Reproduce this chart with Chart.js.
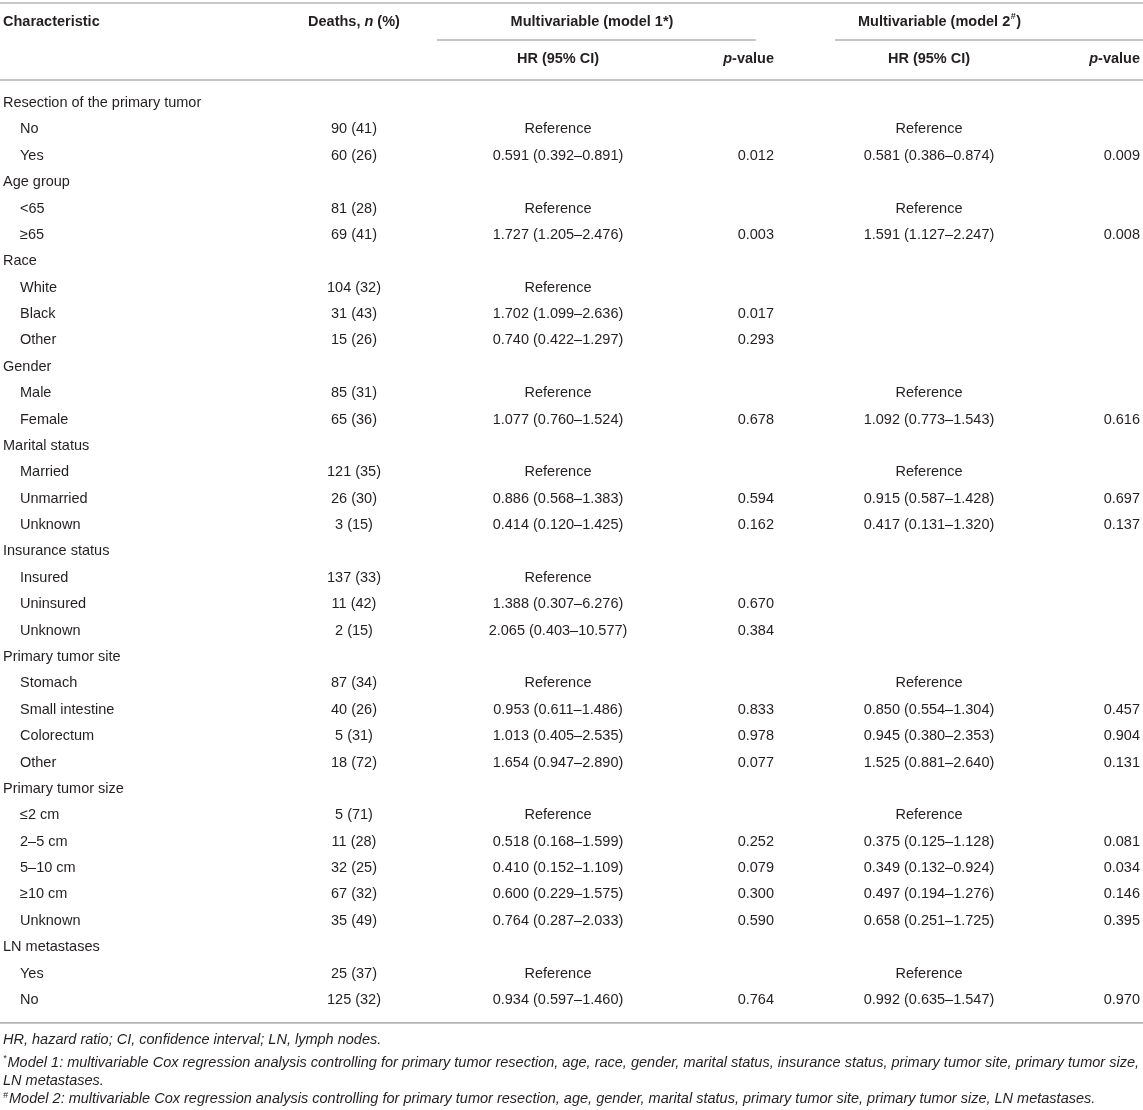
<!DOCTYPE html>
<html lang="en">
<head>
  <meta charset="UTF-8" />
  <title>Multivariable Cox regression</title>
  <script src="https://cdn.jsdelivr.net/npm/chart.js"></script>
  <style>
    body { margin: 0; background: #fff; }
    #wrap { width: 1143px; height: 1110px; }
  </style>
</head>
<body>
  <div id="wrap"><canvas id="tabla" width="1143" height="1110"></canvas></div>
  <script>
    // table content, one entry per row
    const characteristics = [
      'Resection of the primary tumor', 'No', 'Yes',
      'Age group', '<65', '≥65',
      'Race', 'White', 'Black', 'Other',
      'Gender', 'Male', 'Female',
      'Marital status', 'Married', 'Unmarried', 'Unknown',
      'Insurance status', 'Insured', 'Uninsured', 'Unknown',
      'Primary tumor site', 'Stomach', 'Small intestine', 'Colorectum', 'Other',
      'Primary tumor size', '≤2 cm', '2–5 cm', '5–10 cm', '≥10 cm', 'Unknown',
      'LN metastases', 'Yes', 'No'
    ];
    const deaths = [
      '', '90 (41)', '60 (26)',
      '', '81 (28)', '69 (41)',
      '', '104 (32)', '31 (43)', '15 (26)',
      '', '85 (31)', '65 (36)',
      '', '121 (35)', '26 (30)', '3 (15)',
      '', '137 (33)', '11 (42)', '2 (15)',
      '', '87 (34)', '40 (26)', '5 (31)', '18 (72)',
      '', '5 (71)', '11 (28)', '32 (25)', '67 (32)', '35 (49)',
      '', '25 (37)', '125 (32)'
    ];
    const hrModel1 = [
      '', 'Reference', '0.591 (0.392–0.891)',
      '', 'Reference', '1.727 (1.205–2.476)',
      '', 'Reference', '1.702 (1.099–2.636)', '0.740 (0.422–1.297)',
      '', 'Reference', '1.077 (0.760–1.524)',
      '', 'Reference', '0.886 (0.568–1.383)', '0.414 (0.120–1.425)',
      '', 'Reference', '1.388 (0.307–6.276)', '2.065 (0.403–10.577)',
      '', 'Reference', '0.953 (0.611–1.486)', '1.013 (0.405–2.535)', '1.654 (0.947–2.890)',
      '', 'Reference', '0.518 (0.168–1.599)', '0.410 (0.152–1.109)', '0.600 (0.229–1.575)', '0.764 (0.287–2.033)',
      '', 'Reference', '0.934 (0.597–1.460)'
    ];
    const pModel1 = [
      '', '', '0.012',
      '', '', '0.003',
      '', '', '0.017', '0.293',
      '', '', '0.678',
      '', '', '0.594', '0.162',
      '', '', '0.670', '0.384',
      '', '', '0.833', '0.978', '0.077',
      '', '', '0.252', '0.079', '0.300', '0.590',
      '', '', '0.764'
    ];
    const hrModel2 = [
      '', 'Reference', '0.581 (0.386–0.874)',
      '', 'Reference', '1.591 (1.127–2.247)',
      '', '', '', '',
      '', 'Reference', '1.092 (0.773–1.543)',
      '', 'Reference', '0.915 (0.587–1.428)', '0.417 (0.131–1.320)',
      '', '', '', '',
      '', 'Reference', '0.850 (0.554–1.304)', '0.945 (0.380–2.353)', '1.525 (0.881–2.640)',
      '', 'Reference', '0.375 (0.125–1.128)', '0.349 (0.132–0.924)', '0.497 (0.194–1.276)', '0.658 (0.251–1.725)',
      '', 'Reference', '0.992 (0.635–1.547)'
    ];
    const pModel2 = [
      '', '', '0.009',
      '', '', '0.008',
      '', '', '', '',
      '', '', '0.616',
      '', '', '0.697', '0.137',
      '', '', '', '',
      '', '', '0.457', '0.904', '0.131',
      '', '', '0.081', '0.034', '0.146', '0.395',
      '', '', '0.970'
    ];
    const footnotes = [
      ['', 'HR, hazard ratio; CI, confidence interval; LN, lymph nodes.'],
      ['*', 'Model 1: multivariable Cox regression analysis controlling for primary tumor resection, age, race, gender, marital status, insurance status, primary tumor site, primary tumor size,'],
      ['', 'LN metastases.'],
      ['#', 'Model 2: multivariable Cox regression analysis controlling for primary tumor resection, age, gender, marital status, primary tumor site, primary tumor size, LN metastases.']
    ];

    // layout (x in scale units, y in row units)
    const FUENTE = '"Liberation Sans", Arial, sans-serif';
    const colX = { label: 3, indent: 20, deaths: 354, hr1: 558, p1: 774, hr2: 929, p2: 1140, m1: 592, m2: 939 };
    const filaPx = 26.38, primeraPx = 103;
    const yMin = -primeraPx / filaPx;
    const yMax = yMin + 1110 / filaPx;
    const filaTitulo = -3.07, filaSub = -1.67;
    const lineaTop = -3.79, lineaMedia = -2.39, lineaHeader = -0.87, lineaFin = 34.87;
    const filasNota = [35.52, 36.39, 37.07, 37.76];

    const tablaPlugin = {
      id: 'tabla',
      beforeDraw(chart) {
        const c = chart.ctx;
        c.save();
        c.fillStyle = '#fff';
        c.fillRect(0, 0, chart.width, chart.height);
        c.restore();
      },
      afterDraw(chart) {
        const c = chart.ctx;
        const x = chart.scales.x, y = chart.scales.y;
        const px = v => x.getPixelForValue(v);
        const py = v => y.getPixelForValue(v);

        function texto(t, xv, yv, align, font) {
          c.font = font;
          c.textAlign = align;
          c.fillText(t, px(xv), py(yv));
        }
        function linea(x0, x1, yv) {
          c.beginPath();
          c.moveTo(px(x0), py(yv));
          c.lineTo(px(x1), py(yv));
          c.stroke();
        }

        c.save();
        c.textBaseline = 'middle';
        c.fillStyle = '#231f20';
        c.strokeStyle = '#b4b4b4';
        c.lineWidth = 1.6;

        // rules
        linea(0, 1143, lineaTop);
        linea(437, 756, lineaMedia);
        linea(835, 1143, lineaMedia);
        linea(0, 1143, lineaHeader);
        linea(0, 1143, lineaFin);

        // header
        const bold = 'bold 14.5px ' + FUENTE;
        const boldIt = 'italic bold 14.5px ' + FUENTE;
        texto('Characteristic', colX.label, filaTitulo, 'left', bold);
        // Deaths, n (%)
        c.font = bold;
        const a = 'Deaths, ', b = ' (%)';
        const wa = c.measureText(a).width, wb = c.measureText(b).width;
        c.font = boldIt;
        const wn = c.measureText('n').width;
        let x0 = px(colX.deaths) - (wa + wn + wb) / 2;
        c.textAlign = 'left';
        c.font = bold; c.fillText(a, x0, py(filaTitulo));
        c.font = boldIt; c.fillText('n', x0 + wa, py(filaTitulo));
        c.font = bold; c.fillText(b, x0 + wa + wn, py(filaTitulo));

        texto('Multivariable (model 1*)', colX.m1, filaTitulo, 'center', bold);
        // model 2 with superscript #
        c.font = bold;
        const m2a = 'Multivariable (model 2', m2c = ')';
        const w2a = c.measureText(m2a).width, w2c = c.measureText(m2c).width;
        c.font = 'bold 9px ' + FUENTE;
        const wh = c.measureText('#').width;
        x0 = px(colX.m2) - (w2a + wh + w2c) / 2;
        c.textAlign = 'left';
        c.font = bold; c.fillText(m2a, x0, py(filaTitulo));
        c.font = 'bold 9px ' + FUENTE; c.fillText('#', x0 + w2a + 0.5, py(filaTitulo) - 5);
        c.font = bold; c.fillText(m2c, x0 + w2a + wh + 1, py(filaTitulo));

        [[colX.hr1, colX.p1], [colX.hr2, colX.p2]].forEach(([h, p]) => {
          texto('HR (95% CI)', h, filaSub, 'center', bold);
          c.font = bold;
          const wv = c.measureText('-value').width;
          c.textAlign = 'right';
          c.fillText('-value', px(p), py(filaSub));
          c.font = boldIt;
          c.fillText('p', px(p) - wv, py(filaSub));
        });

        // body
        const reg = '14.5px ' + FUENTE;
        characteristics.forEach((lab, i) => {
          const grupo = deaths[i] === '';
          texto(lab, grupo ? colX.label : colX.indent, i, 'left', reg);
          texto(deaths[i], colX.deaths, i, 'center', reg);
          texto(hrModel1[i], colX.hr1, i, 'center', reg);
          texto(pModel1[i], colX.p1, i, 'right', reg);
          texto(hrModel2[i], colX.hr2, i, 'center', reg);
          texto(pModel2[i], colX.p2, i, 'right', reg);
        });

        // footnotes, fitted to the page width
        const nota = 'italic 14.5px ' + FUENTE;
        const notaSup = 'italic 9px ' + FUENTE;
        c.font = notaSup;
        const wSup = c.measureText('*').width + 1;
        c.font = nota;
        const anchoMax = c.measureText(footnotes[1][1]).width + wSup;
        const sx = (px(1139) - px(colX.label)) / anchoMax;
        footnotes.forEach(([sup, t], k) => {
          c.save();
          c.translate(px(colX.label), py(filasNota[k]));
          c.scale(sx, 1);
          c.textAlign = 'left';
          let off = 0;
          if (sup) {
            c.font = notaSup;
            c.fillText(sup, 0, -4);
            off = c.measureText(sup).width + 1;
          }
          c.font = nota;
          c.fillText(t, off, 0);
          c.restore();
        });
        c.restore();
      }
    };

    new Chart(document.getElementById('tabla').getContext('2d'), {
      type: 'scatter',
      data: { datasets: [{ data: [] }] },
      options: {
        responsive: false,
        animation: false,
        layout: { padding: 0 },
        plugins: { legend: { display: false }, tooltip: { enabled: false } },
        scales: {
          x: { type: 'linear', min: 0, max: 1143, display: false },
          y: { type: 'linear', min: yMin, max: yMax, reverse: true, display: false }
        }
      },
      plugins: [tablaPlugin]
    });
  </script>
</body>
</html>
